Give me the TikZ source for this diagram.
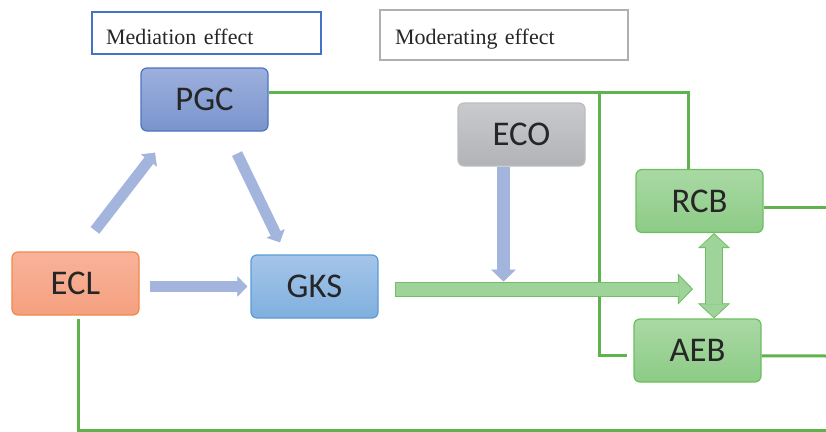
\documentclass[tikz,border=0pt]{standalone}
\usepackage{fontspec}
\setmainfont{Liberation Serif}
\newfontfamily\boxfont{Carlito}
\usetikzlibrary{arrows.meta}

\definecolor{txt}{HTML}{262626}
\definecolor{pgctop}{HTML}{9DB0DE}
\definecolor{pgcbot}{HTML}{7A94CC}
\definecolor{pgcline}{HTML}{4E74BE}
\definecolor{ecltop}{HTML}{F8B39A}
\definecolor{eclbot}{HTML}{F5A07F}
\definecolor{eclline}{HTML}{F0894A}
\definecolor{gkstop}{HTML}{A5C5E9}
\definecolor{gksbot}{HTML}{7FB0DE}
\definecolor{gksline}{HTML}{5B9BD5}
\definecolor{ecotop}{HTML}{C8CACD}
\definecolor{ecobot}{HTML}{B1B3B7}
\definecolor{ecoline}{HTML}{BBBDC0}
\definecolor{grntop}{HTML}{A9D9A4}
\definecolor{grnbot}{HTML}{8DCB86}
\definecolor{grnline}{HTML}{6CBF5F}
\definecolor{linkgreen}{HTML}{5FB34F}
\definecolor{arrowblue}{HTML}{A3B5DD}
\definecolor{flowfill}{HTML}{9ED39A}
\definecolor{flowedge}{HTML}{70BE66}
\definecolor{legendblue}{HTML}{4472C4}
\definecolor{legendgray}{HTML}{AFAFAF}

\begin{document}
\begin{tikzpicture}[x=0.75pt, y=-0.75pt,
    var/.style={rounded corners=4.5pt, minimum width=95.25pt, minimum height=47.25pt,
        inner sep=0pt, line width=0.9pt, text=txt, font=\boxfont\fontsize{26}{30}\selectfont},
    legend/.style={line width=1.9pt, inner ysep=0pt, text depth=0pt, align=left,
        text=txt, font=\fontsize{16.5}{20}\selectfont},
    link/.style={linkgreen, line width=2.25pt},
    blueflow/.style={arrowblue, line width=8.25pt,
        -{Triangle[width=15pt, length=7.5pt, line width=0.4pt]}},
    flowout/.style={flowedge, line width=11.25pt,
        -{Triangle[width=23.25pt, length=11.25pt, line width=0.4pt]}},
    flowin/.style={flowfill, line width=9.75pt,
        -{Triangle[width=19.5pt, length=9.45pt, line width=0.4pt]}},
    pairout/.style={flowedge, line width=13pt,
        {Triangle[width=24pt, length=11.25pt, line width=0.4pt]}-{Triangle[width=24pt, length=11.25pt, line width=0.4pt]}},
    pairin/.style={flowfill, line width=11.5pt,
        {Triangle[width=20.5pt, length=9.5pt, line width=0.4pt]}-{Triangle[width=20.5pt, length=9.5pt, line width=0.4pt]},
        shorten <=1.05pt, shorten >=1.05pt}
]
    \useasboundingbox (0,0) rectangle (826,432);

    % Legend
    \node[legend, draw=legendblue, minimum width=171.75pt, minimum height=31.5pt,
        inner xsep=10.5pt, text width=150.75pt, text height=18pt] (medkey) at (206.5,33) {Mediation effect};
    \node[legend, draw=legendgray, minimum width=186pt, minimum height=37.5pt,
        inner xsep=11.25pt, text width=163.5pt, text height=14pt] (modkey) at (504,35) {Moderating effect};

    % Variables
    \node[var, draw=pgcline, top color=pgctop, bottom color=pgcbot] (pgc) at (204.5,99.5) {PGC};
    \node[var, draw=eclline, top color=ecltop, bottom color=eclbot] (ecl) at (75.5,283.5) {ECL};
    \node[var, draw=gksline, top color=gkstop, bottom color=gksbot] (gks) at (314.5,286.5) {GKS};
    \node[var, draw=ecoline, top color=ecotop, bottom color=ecobot] (eco) at (521.5,134.5) {ECO};
    \node[var, draw=grnline, top color=grntop, bottom color=grnbot] (rcb) at (699.5,201) {RCB};
    \node[var, draw=grnline, top color=grntop, bottom color=grnbot] (aeb) at (697.5,350.5) {AEB};

    % Green links
    \coordinate (branch) at (599,93);
    \draw[link] ([yshift=4.9pt]pgc.east) -| ([xshift=-8.6pt]rcb.north);
    \draw[link] (branch) |- ([xshift=-4.5pt, yshift=-4pt]aeb.west);
    \draw[link] ([yshift=-4.5pt]rcb.east) -- (826,207);
    \draw[link] ([yshift=-4pt]aeb.east) -- (826,356);
    \draw[link] ([xshift=1.9pt, yshift=-2.2pt]ecl.south) |- (826,430.5);

    % Mediation paths
    \draw[blueflow] ([xshift=14.6pt, yshift=15.75pt]ecl.north) -- ([xshift=-37.1pt, yshift=-15.75pt]pgc.south);
    \draw[blueflow] ([xshift=24.4pt, yshift=-16.5pt]pgc.south) -- ([xshift=-25.9pt, yshift=9pt]gks.north);
    \draw[blueflow, shorten <=7.5pt, shorten >=2.2pt] (ecl.east |- gks.west) -- (gks.west);

    % Main effect
    \coordinate (flowstart) at ([xshift=12pt, yshift=-1.9pt]gks.east);
    \coordinate (flowend) at ([xshift=-3.4pt]flowstart -| aeb.north);
    \draw[flowout] (flowstart) -- (flowend);
    \draw[flowin, shorten <=0.75pt, shorten >=1.04pt] (flowstart) -- (flowend);

    % Moderation
    \coordinate (flowtop) at ([yshift=3.75pt]gks.east);
    \draw[blueflow, line width=9.75pt, -{Triangle[width=18.75pt, length=9pt, line width=0.4pt]}]
        ([xshift=-13.5pt]eco.south) -- ([xshift=-13.5pt]eco.south |- flowtop);

    % RCB and AEB
    \draw[pairout] ([xshift=10.9pt]rcb.south) -- ([xshift=10.9pt]rcb.south |- aeb.north);
    \draw[pairin] ([xshift=10.9pt]rcb.south) -- ([xshift=10.9pt]rcb.south |- aeb.north);
\end{tikzpicture}
\end{document}
